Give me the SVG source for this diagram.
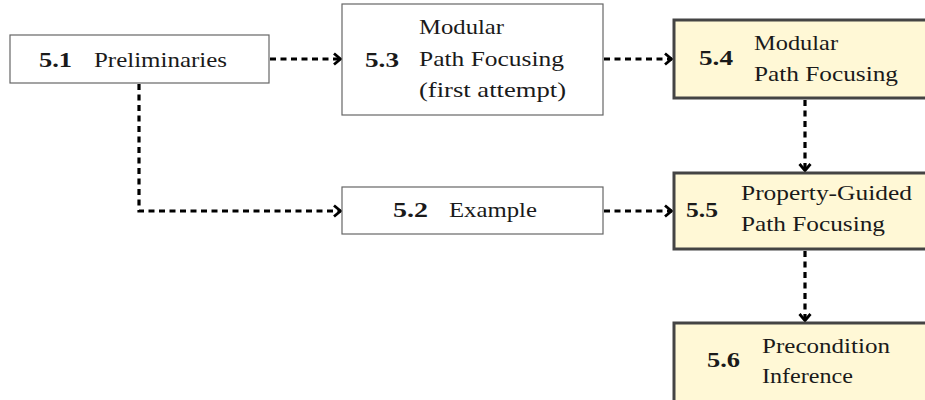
<svg xmlns="http://www.w3.org/2000/svg" width="925" height="400" viewBox="0 0 925 400">
<style>
.plain{fill:#ffffff;stroke:#666666;stroke-width:1.2}
.hl{fill:#fff8d6;stroke:#444444;stroke-width:3}
.t{font-family:'Liberation Serif','DejaVu Serif',serif;font-size:22px;fill:#1a1a1a}
.num{font-weight:bold}
.conn{fill:none;stroke:#000000;stroke-width:3.2;stroke-dasharray:6 4.5;marker-end:url(#chev)}
</style>
<defs>
<marker id="chev" markerUnits="userSpaceOnUse" viewBox="0 0 14 14" markerWidth="14" markerHeight="14" refX="11.5" refY="7" orient="auto">
<path d="M4.5,1.5 L11,7 L4.5,12.5" fill="none" stroke="#000000" stroke-width="2.8"/>
</marker>
</defs>
<rect width="925" height="400" fill="#ffffff"/>
<g id="connectors">
<path class="conn" d="M270,59 H341"/>
<path class="conn" d="M604,59 H672"/>
<path class="conn" d="M139,84 V211 H341"/>
<path class="conn" d="M604,211 H672"/>
<path class="conn" d="M805,100 V171"/>
<path class="conn" d="M805,251 V321"/>
</g>
<g id="n51">
<rect class="plain" x="10" y="35" width="259" height="48"/>
<text class="t num" x="39" y="67" textLength="33" lengthAdjust="spacingAndGlyphs">5.1</text>
<text class="t" x="94" y="67" textLength="133" lengthAdjust="spacingAndGlyphs">Preliminaries</text>
</g>
<g id="n53">
<rect class="plain" x="342" y="4" width="261" height="111"/>
<text class="t num" x="365" y="67" textLength="34" lengthAdjust="spacingAndGlyphs">5.3</text>
<text class="t" x="419" y="34" textLength="85" lengthAdjust="spacingAndGlyphs">Modular</text>
<text class="t" x="419" y="66" textLength="145" lengthAdjust="spacingAndGlyphs">Path Focusing</text>
<text class="t" x="419" y="97" textLength="147" lengthAdjust="spacingAndGlyphs">(first attempt)</text>
</g>
<g id="n52">
<rect class="plain" x="342" y="187" width="261" height="47"/>
<text class="t num" x="393" y="217" textLength="35" lengthAdjust="spacingAndGlyphs">5.2</text>
<text class="t" x="449" y="217" textLength="88" lengthAdjust="spacingAndGlyphs">Example</text>
</g>
<g id="n54">
<rect class="hl" x="674" y="20" width="262" height="78"/>
<text class="t num" x="699" y="65" textLength="34" lengthAdjust="spacingAndGlyphs">5.4</text>
<text class="t" x="754" y="50" textLength="84" lengthAdjust="spacingAndGlyphs">Modular</text>
<text class="t" x="754" y="81" textLength="144" lengthAdjust="spacingAndGlyphs">Path Focusing</text>
</g>
<g id="n55">
<rect class="hl" x="674" y="173" width="262" height="76"/>
<text class="t num" x="686" y="217" textLength="32" lengthAdjust="spacingAndGlyphs">5.5</text>
<text class="t" x="741" y="200" textLength="171" lengthAdjust="spacingAndGlyphs">Property-Guided</text>
<text class="t" x="741" y="231" textLength="144" lengthAdjust="spacingAndGlyphs">Path Focusing</text>
</g>
<g id="n56">
<rect class="hl" x="674" y="323" width="262" height="85"/>
<text class="t num" x="707" y="367" textLength="33" lengthAdjust="spacingAndGlyphs">5.6</text>
<text class="t" x="762" y="353" textLength="128" lengthAdjust="spacingAndGlyphs">Precondition</text>
<text class="t" x="762" y="383" textLength="91" lengthAdjust="spacingAndGlyphs">Inference</text>
</g>
</svg>
